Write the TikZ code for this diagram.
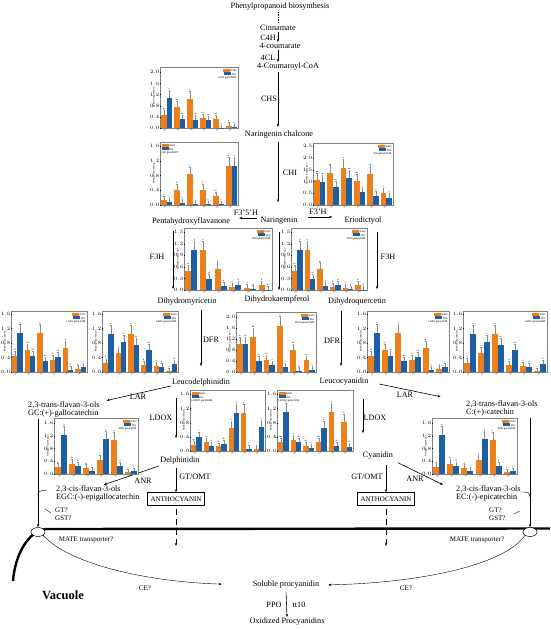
\documentclass[tikz,border=0pt]{standalone}
\usepackage{fontspec}
\setmainfont{Liberation Serif}
\setsansfont{Liberation Sans}
\usetikzlibrary{arrows.meta,positioning,shapes.geometric}

\definecolor{GGHorange}{RGB}{238,128,28}
\definecolor{TKLblue}{RGB}{28,95,165}

\tikzset{
  compound/.style={font=\fontsize{8.2}{7.6}\selectfont, inner sep=1pt},
  enzyme/.style={font=\fontsize{8.2}{9}\selectfont, inner sep=1pt},
  smalltext/.style={font=\fontsize{7}{8}\selectfont, inner sep=1pt},
  pathway/.style={->, line width=0.6pt},
  anthobox/.style={draw, line width=0.5pt, font=\fontsize{7}{8}\selectfont, inner xsep=3pt, inner ysep=4pt},
  vesicle/.style={ellipse, draw, fill=white, line width=0.5pt, minimum width=14pt, minimum height=9pt, inner sep=0pt},
  membrane/.style={line width=2.4pt},
  chartbox/.style={draw=black!50, fill=white, line width=0.35pt},
  charttick/.style={line width=0.2pt},
  ticklbl/.style={anchor=east, font=\sffamily\fontsize{2.2}{2.4}\selectfont, inner sep=0.3pt},
  axislbl/.style={rotate=90, font=\sffamily\fontsize{2.4}{2.6}\selectfont, inner sep=0pt},
  xlbl/.style={anchor=east, rotate=45, font=\sffamily\fontsize{2}{2.2}\selectfont, inner sep=0.2pt},
  barlbl/.style={anchor=south, font=\sffamily\fontsize{2}{2.2}\selectfont, inner sep=0.3pt},
  errbar/.style={draw=black!45, line width=0.25pt},
  ggh bar/.style={fill=GGHorange},
  tkl bar/.style={fill=TKLblue},
  chartlegend/.style={font=\sffamily\fontsize{2.6}{3.4}\selectfont, inner sep=0.6pt},
  lgdright/.style={anchor=north east, align=right},
  lgdleft/.style={anchor=north west, align=left}
}

% #1,#2 lower left corner, #3 width, #4 height, #5 value at top, #6 ticks, #7 bars, #8 gene, #9 legend side
\newcommand{\exprchart}[9]{%
  \begin{scope}[shift={(#1,#2)},yscale=-1]
    \pgfmathsetmacro\cvs{#4/#5}
    \pgfmathsetmacro\cgs{#3/6}
    \draw[chartbox] (0,0) rectangle (#3,#4);
    \foreach \t in {#6}{
      \draw[charttick] (0,\t*\cvs) -- (0.9,\t*\cvs);
      \node[ticklbl] at (-0.3,\t*\cvs) {\pgfmathprintnumber[fixed,fixed zerofill,precision=1]{\t}};
    }
    \node[axislbl] at (-6,#4/2) {Relative expression};
    \foreach \vo/\vt/\la/\lb [count=\i] in {#7}{
      \pgfmathsetmacro\xa{(\i-0.71)*\cgs}
      \pgfmathsetmacro\xb{(\i-0.29)*\cgs}
      \pgfmathsetmacro\ya{\vo*\cvs}
      \pgfmathsetmacro\yb{\vt*\cvs}
      \pgfmathsetmacro\ea{\ya+(0.05*#5+0.15*\vo)*\cvs}
      \pgfmathsetmacro\eb{\yb+(0.05*#5+0.15*\vt)*\cvs}
      \fill[ggh bar] ({(\i-0.92)*\cgs},0) rectangle ({(\i-0.5)*\cgs},\ya);
      \fill[tkl bar] ({(\i-0.5)*\cgs},0) rectangle ({(\i-0.08)*\cgs},\yb);
      \draw[errbar] (\xa,\ya) -- (\xa,\ea) (\xa-0.6,\ea) -- (\xa+0.6,\ea)
                    (\xb,\yb) -- (\xb,\eb) (\xb-0.6,\eb) -- (\xb+0.6,\eb);
      \node[barlbl] at (\xa,\ea) {\la};
      \node[barlbl] at (\xb,\eb) {\lb};
      \node[xlbl] at ({(\i-0.5)*\cgs},-0.8) {S-\i};
    }
    \coordinate (lgdright) at (#3-0.8,#4-0.8);
    \coordinate (lgdleft) at (0.8,#4-0.8);
    \node[chartlegend,#9] at (#9) {\textcolor{GGHorange}{\rule{7pt}{3.2pt}}\,GGH\\\textcolor{TKLblue}{\rule{7pt}{3.2pt}}\,TKL\\#8};
  \end{scope}}

\begin{document}
\begin{tikzpicture}[x=1pt,y=-1pt,>={Stealth[length=3.2pt,width=2.4pt]}]
\useasboundingbox (0,0) rectangle (550,629);

% metabolites
\node[compound] (phen) at (280,7) {Phenylpropanoid biosynthesis};
\node[compound] (cinn) at (278,28) {Cinnamate};
\node[compound] (coum) at (280,46) {4-coumarate};
\node[compound] (coa) at (288,67) {4-Coumaroyl-CoA};
\node[compound] (chal) at (279,135) {Naringenin chalcone};
\node[compound] (nar) at (279,221) {Naringenin};
\node[compound] (penta) at (191,221) {Pentahydroxyflavanone};
\node[compound] (erio) at (363,221) {Eriodictyol};
\node[compound] (dhm) at (187,302) {Dihydromyricetin};
\node[compound] (dhk) at (277,299) {Dihydrokaempferol};
\node[compound] (dhq) at (357,302) {Dihydroquercetin};
\node[compound] (ldel) at (201,383) {Leucodelphinidin};
\node[compound] (lcya) at (344,382) {Leucocyanidin};
\node[compound] (delph) at (180,461) {Delphinidin};
\node[compound] (cya) at (378,456) {Cyanidin};
\node[anthobox] (anthl) at (176,499) {ANTHOCYANIN};
\node[anthobox] (anthr) at (386,499) {ANTHOCYANIN};
\node[compound, align=left, anchor=west] (transl) at (27,409.5) {2,3-trans-flavan-3-ols\\GC:(+)-gallocatechin};
\node[compound, align=left, anchor=west] (transr) at (465,408.5) {2,3-trans-flavan-3-ols\\C:(+)-catechin};
\node[compound, align=left, anchor=west] (cisl) at (55,493.5) {2,3-cis-flavan-3-ols\\EGC:(-)-epigallocatechin};
\node[compound, align=left, anchor=west] (cisr) at (455,493.5) {2,3-cis-flavan-3-ols\\EC:(-)-epicatechin};
\node[compound] (sol) at (286,585) {Soluble procyanidin};
\node[compound] (oxi) at (287,622) {Oxidized Procyanidins};
\node[font=\bfseries\fontsize{12.5}{14}\selectfont] (vac) at (63,595) {Vacuole};

% enzymes
\node[enzyme] (c4h) at (268,38) {C4H};
\node[enzyme] (fcl) at (268,58) {4CL};
\node[enzyme] (chs) at (269,99) {CHS};
\node[enzyme] (chi) at (290,173) {CHI};
\node[enzyme] (f35h) at (246,213) {F3’5’H};
\node[enzyme] (f3h') at (318,212) {F3’H};
\node[enzyme] (f3hl) at (157,257) {F3H};
\node[enzyme] (f3hr) at (388,257) {F3H};
\node[enzyme] (dfrl) at (211,340) {DFR};
\node[enzyme] (dfrr) at (332,341) {DFR};
\node[enzyme] (larl) at (138,397) {LAR};
\node[enzyme] (larr) at (405,395) {LAR};
\node[enzyme] (ldoxl) at (161,418) {LDOX};
\node[enzyme] (ldoxr) at (375,418) {LDOX};
\node[enzyme] (gtomtl) at (195,477) {GT/OMT};
\node[enzyme] (gtomtr) at (367,477) {GT/OMT};
\node[enzyme] (anrl) at (143,481) {ANR};
\node[enzyme] (anrr) at (415,479) {ANR};
\node[enzyme] (ppo) at (274,605) {PPO};
\node[enzyme] (tt10) at (299,605) {tt10};
\node[smalltext, align=left, anchor=west] (gtl) at (54,514) {GT?\\GST?};
\node[smalltext, align=left, anchor=west] (gtr) at (488,514) {GT?\\GST?};
\node[smalltext] (matel) at (86,540) {MATE transporter?};
\node[smalltext] (mater) at (477,540) {MATE transporter?};
\node[smalltext] (cel) at (145,588) {CE?};
\node[smalltext] (cer) at (406,588) {CE?};

\coordinate (xf3hl) at (173,0);
\coordinate (xf3hr) at (377,0);
\coordinate (xdfrr) at (341,0);
\coordinate (xldoxl) at (176,0);
\coordinate (xldoxr) at (363,0);
\coordinate (anthlend) at (176,546);
\coordinate (anthrend) at (386,546);

% main route
\draw[line width=1pt, dash pattern=on 1.2pt off 1.3pt] (phen.south -| cinn) -- (cinn.north);
\draw[pathway] (cinn.south) -- (cinn.south |- coum.north);
\draw[pathway] (coum.south -| cinn) -- (coa.north -| cinn);
\draw[pathway, shorten >=3pt] (coa.south -| cinn) -- (chal.north -| cinn);
\draw[pathway, shorten <=2pt, shorten >=14pt] (chal.south -| cinn) -- (nar.north -| cinn);
\draw[pathway, shorten <=2pt, shorten >=8pt] ([yshift=3pt]nar.west) -- ([yshift=3pt]penta.east);
\draw[pathway, shorten <=9pt, shorten >=11pt] ([yshift=4pt]nar.east) -- ([yshift=4pt]erio.west);
\draw[pathway, shorten <=5pt, shorten >=8pt] (penta.south -| xf3hl) -- (dhm.north -| xf3hl);
\draw[pathway, shorten <=6pt, shorten >=4pt] (nar.south) -- (nar.south |- dhk.north);
\draw[pathway, shorten <=6pt, shorten >=8pt] (erio.south -| xf3hr) -- (dhq.north -| xf3hr);
\draw[pathway, shorten <=3pt, shorten >=12pt] (dhm.south -| ldel) -- (ldel.north);
\draw[pathway, shorten <=4pt, shorten >=11pt] (dhq.south -| xdfrr) -- (lcya.north -| xdfrr);
\draw[pathway, shorten >=1pt] ([yshift=-3pt]ldel.west) -- ([xshift=5pt]transl.north east);
\draw[pathway, shorten <=10pt, shorten >=25pt] (lcya.east) -- ([yshift=-2pt]transr.north west);
\draw[pathway, shorten <=10pt, shorten >=18pt] (ldel.south -| xldoxl) -- (delph.north -| xldoxl);
\draw[pathway, shorten <=12pt, shorten >=18pt] (lcya.south -| xldoxr) -- (cya.north -| xldoxr);
\draw[pathway, shorten <=2pt] (delph.south -| anthl) -- (anthl.north);
\draw[pathway, shorten <=4pt] (cya.south -| anthr) -- (anthr.north);
\draw[pathway] (delph.south west) -- ([xshift=6pt]cisl.north);
\draw[pathway, shorten <=4pt] (cya.south east) -- ([xshift=-12pt]cisr.north west);
\draw[pathway, dash pattern=on 6pt off 4pt, shorten <=3pt] (anthl.south) -- (anthlend);
\draw[pathway, dash pattern=on 6pt off 4pt, shorten <=3pt] (anthr.south) -- (anthrend);

% membrane and transport
\draw[membrane] (550,528.5) -- (46,529) .. controls (28,531) and (15,555) .. (13,581);
\node[vesicle] (vl) at (38,532) {};
\node[vesicle] (vr) at (530,532) {};
\draw[pathway, shorten <=1pt] (transl.south -| vl) -- (vl.north);
\draw[pathway, shorten <=1pt] (transr.south -| vr) -- (vr.north);
\draw (38,497) .. controls (38,491) .. (47,490);
\draw (520,492) .. controls (529,492) .. (530,497);
\draw ([xshift=-9pt,yshift=5pt]gtl.west) -- ++(6,4);
\draw ([xshift=7pt]gtr.east) -- ++(6,-3);
\draw[pathway, line width=0.4pt, shorten >=30pt] (vl.south east) .. controls (70,565) and (150,582) .. (sol.west);
\draw[pathway, line width=0.4pt, shorten >=8pt] (vr.south west) .. controls (505,565) and (420,583) .. (sol.east);
\draw[pathway, shorten <=2pt] (sol.south) -- (oxi.north);

% expression charts
\exprchart{160}{128}{78}{61}{2.19}{0,0.4,0.8,1.2,1.6,2.0}
  {0.48/1.08/bc/a, 0.74/0.32/ab/cd, 1.05/0.30/a/cd, 0.35/0.28/cd/cd, 0.32/0.01/cd/e, 0.08/0.02/d/e}{CHS gene3500}{lgdright}
\exprchart{160}{205}{78}{63}{1.71}{0,0.4,0.8,1.2,1.6}
  {0.14/0.08/c/c, 0.41/0.06/b/c, 0.83/0.04/a/c, 0.41/0.02/b/c, 0.24/0.02/bc/c, 1.06/1.06/a/a}{CHI gene5973}{lgdleft}
\exprchart{313}{205}{80}{62}{2.63}{0,0.5,1.0,1.5,2.0,2.5}
  {1.06/0.99/ab/ab, 1.34/0.78/ab/bc, 1.58/1.16/a/ab, 1.03/0.56/ab/c, 1.31/0.40/ab/c, 0.52/0.31/c/c}{CHI gene10108}{lgdright}
\exprchart{184}{290}{88}{62}{1.61}{0,0.3,0.6,0.9,1.2,1.5}
  {0.50/1.04/bc/a, 1.04/0.28/a/cd, 0.55/0.11/b/d, 0.09/0.14/d/d, 0.06/0.03/d/d, 0.13/0.01/d/d}{F3H gene10588}{lgdright}
\exprchart{291}{290}{76}{62}{1.61}{0,0.3,0.6,0.9,1.2,1.5}
  {0.50/1.04/bc/a, 1.04/0.28/a/cd, 0.55/0.11/b/d, 0.09/0.14/d/d, 0.06/0.03/d/d, 0.13/0.01/d/d}{F3H gene10588}{lgdright}
\exprchart{11}{372}{76}{61}{1.68}{0,0.4,0.8,1.2,1.6}
  {0.43/1.08/cd/a, 0.60/0.43/bc/cd, 1.08/0.29/a/de, 0.34/0.41/d/cd, 0.66/0.06/b/e, 0.08/0.14/e/e}{LAR1 gene1338}{lgdright}
\exprchart{102}{372}{76}{61}{1.68}{0,0.4,0.8,1.2,1.6}
  {0.25/1.06/d/a, 0.52/0.82/c/b, 1.05/0.74/a/bc, 0.18/0.60/d/cd, 0.17/0.14/d/d, 0.02/0.21/e/d}{LAR2 gene10580}{lgdright}
\exprchart{236}{372}{80}{60}{2.18}{0,0.4,0.8,1.2,1.6,2.0}
  {1.02/1.02/bc/bc, 1.28/0.41/ab/de, 0.44/0.24/de/e, 1.66/0.18/a/e, 0.80/0.05/cd/e, 0.42/0.08/de/e}{DFR gene27583}{lgdright}
\exprchart{367}{372}{82}{61}{1.68}{0,0.4,0.8,1.2,1.6}
  {0.43/1.08/cd/a, 0.60/0.43/bc/cd, 1.08/0.29/a/de, 0.34/0.41/d/cd, 0.66/0.06/b/e, 0.08/0.14/e/e}{LAR1 gene1338}{lgdright}
\exprchart{463}{372}{84}{61}{1.68}{0,0.4,0.8,1.2,1.6}
  {0.25/1.06/d/a, 0.52/0.82/c/b, 1.05/0.74/a/bc, 0.18/0.60/d/cd, 0.17/0.14/d/d, 0.02/0.21/e/d}{LAR2 gene10580}{lgdright}
\exprchart{190}{451}{75}{61}{1.72}{0,0.4,0.8,1.2,1.6}
  {0.18/0.39/de/c, 0.25/0.14/d/ef, 0.13/0.19/ef/de, 0.65/1.08/b/a, 1.07/0.07/a/f, 0.07/0.68/f/b}{LDOX1 gene9998}{lgdleft}
\exprchart{277}{451}{76}{61}{1.72}{0,0.4,0.8,1.2,1.6}
  {0.25/1.10/cde/a, 0.32/0.25/d/de, 0.14/0.09/def/f, 0.25/0.65/cde/c, 1.10/0.14/a/ef, 0.82/0.11/b/ef}{LDOX2 gene7404}{lgdleft}
\exprchart{54}{474}{84}{56}{1.76}{0,0.4,0.8,1.2,1.6}
  {0.21/1.23/ef/a, 0.32/0.25/de/ef, 0.18/0.11/ef/f, 0.45/1.09/c/a, 1.07/0.24/a/d, 0.06/0.09/f/f}{ANR gene3209}{lgdright}
\exprchart{432}{474}{85}{56}{1.76}{0,0.4,0.8,1.2,1.6}
  {0.21/1.23/ef/a, 0.32/0.25/de/ef, 0.18/0.11/ef/f, 0.45/1.09/c/a, 1.07/0.24/a/d, 0.06/0.09/f/f}{ANR gene3209}{lgdright}

\end{tikzpicture}
\end{document}
